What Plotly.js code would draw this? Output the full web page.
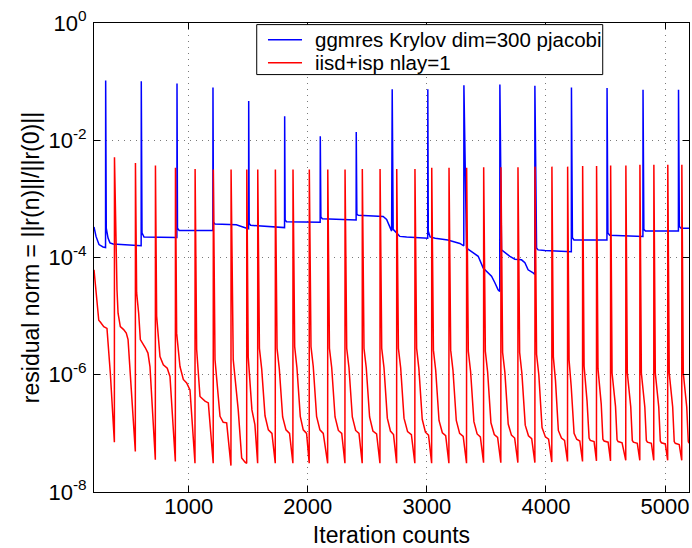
<!DOCTYPE html>
<html>
<head>
<meta charset="utf-8">
<script src="https://cdn.plot.ly/plotly-3.0.1.min.js"></script>
<style>
  html, body { margin: 0; padding: 0; background: #fff; }
  #chart { width: 692px; height: 548px; }
</style>
</head>
<body>
<div id="chart"></div>
<script>
// GMRES(300) with point-Jacobi preconditioner: iteration and log10 of relative residual
const gmresIter = [
  205, 222, 247, 281, 302,
  303, 308, 323, 339, 365, 601,
  602, 608, 625, 901,
  902, 906, 920, 1203,
  1204, 1208, 1220, 1400, 1487, 1503,
  1504, 1508, 1520, 1780, 1805,
  1806, 1810, 1822, 2104,
  2105, 2110, 2122, 2406,
  2407, 2412, 2424, 2565, 2633, 2662, 2676, 2690, 2704,
  2709, 2717, 2746, 2773, 2830, 3007,
  3008, 3012, 3027, 3070, 3176, 3277, 3310,
  3311, 3333, 3375, 3431, 3473, 3501, 3543, 3571, 3598, 3612,
  3613, 3627, 3655, 3697, 3739, 3795, 3823, 3850, 3892, 3906,
  3907, 3921, 3934, 3990, 4213,
  4214, 4222, 4235, 4512,
  4513, 4520, 4535, 4814,
  4815, 4822, 4835, 5112,
  5113, 5120, 5135, 5201
];
const gmresLog10 = [
  -3.48, -3.64, -3.78, -3.82, -3.83,
  -0.98, -3.50, -3.67, -3.75, -3.77, -3.80,
  -0.995, -3.58, -3.65, -3.66,
  -1.03, -3.50, -3.54, -3.54,
  -1.10, -3.40, -3.43, -3.44, -3.50, -3.51,
  -1.33, -3.42, -3.45, -3.48, -3.49,
  -1.59, -3.36, -3.39, -3.40,
  -1.93, -3.31, -3.34, -3.36,
  -1.86, -3.26, -3.28, -3.29, -3.30, -3.35, -3.41, -3.47, -3.55,
  -1.13, -3.52, -3.58, -3.64, -3.65, -3.67,
  -1.13, -3.55, -3.65, -3.67, -3.70, -3.76, -3.80,
  -1.06, -3.84, -3.90, -3.98, -4.18, -4.24, -4.32, -4.43, -4.55, -4.58,
  -1.05, -3.87, -3.92, -3.98, -4.03, -4.04, -4.09, -4.21, -4.26, -4.29,
  -1.07, -3.84, -3.87, -3.88, -3.90,
  -1.10, -3.66, -3.70, -3.70,
  -1.11, -3.58, -3.62, -3.64,
  -1.14, -3.52, -3.55, -3.55,
  -1.14, -3.47, -3.50, -3.50
];

// IISD + ISP, one layer: iteration and log10 of relative residual
const iisdIter = [
  205, 230, 245, 258, 287, 314, 342, 376,
  377, 398, 407, 426, 454, 476, 491, 518, 552,
  553, 563, 580, 594, 636, 658, 675, 720,
  721, 731, 759, 787, 820, 843, 888,
  889, 899, 927, 955, 983, 1011, 1053,
  1054, 1067, 1095, 1137, 1165, 1206,
  1207, 1221, 1263, 1290, 1319, 1355,
  1356, 1374, 1416, 1445, 1473, 1487,
  1488, 1500, 1531, 1556, 1579,
  1580, 1594, 1613, 1641, 1669, 1699, 1727,
  1728, 1742, 1761, 1789, 1817, 1847, 1875,
  1876, 1890, 1909, 1937, 1962, 1990, 2012,
  2013, 2027, 2046, 2074, 2102, 2130, 2167,
  2168, 2182, 2201, 2229, 2257, 2285, 2312,
  2313, 2327, 2346, 2374, 2402, 2430, 2457,
  2458, 2472, 2491, 2519, 2547, 2578, 2606,
  2607, 2621, 2640, 2668, 2694, 2720, 2746,
  2747, 2761, 2780, 2808, 2838, 2870, 2899,
  2900, 2914, 2933, 2961, 2988, 3014, 3040,
  3041, 3055, 3074, 3102, 3130, 3158, 3185,
  3186, 3200, 3219, 3247, 3275, 3305, 3333,
  3334, 3348, 3367, 3395, 3422, 3449, 3476,
  3477, 3491, 3510, 3538, 3566, 3594, 3621,
  3622, 3636, 3655, 3683, 3710, 3737, 3764,
  3765, 3779, 3798, 3826, 3853, 3880, 3907,
  3908, 3921, 3940, 3967, 3995, 4022, 4049,
  4050, 4062, 4080, 4104, 4130, 4156, 4181,
  4182, 4194, 4212, 4236, 4258, 4284, 4307,
  4308, 4320, 4345, 4362, 4372, 4404, 4424,
  4425, 4437, 4464, 4478, 4488, 4522, 4542,
  4543, 4555, 4584, 4597, 4606, 4639, 4670,
  4671, 4683, 4712, 4725, 4734, 4767, 4788,
  4789, 4801, 4830, 4843, 4852, 4885, 4905,
  4906, 4918, 4947, 4960, 4969, 5002, 5022,
  5023, 5035, 5064, 5077, 5086, 5119, 5140,
  5141, 5153, 5182, 5195, 5201
];
const iisdLog10 = [
  -4.21, -4.78, -5.07, -5.10, -5.18, -5.21, -5.97, -7.15,
  -2.29, -4.55, -4.95, -5.18, -5.23, -5.29, -5.40, -6.25, -7.31,
  -2.39, -4.60, -4.95, -5.40, -5.54, -5.63, -5.86, -7.45,
  -2.43, -5.00, -5.69, -5.83, -5.89, -6.03, -7.48,
  -2.47, -5.29, -5.86, -6.08, -6.14, -6.26, -7.51,
  -2.49, -5.57, -6.37, -6.45, -6.48, -7.51,
  -2.50, -5.74, -6.71, -6.81, -6.82, -7.55,
  -2.50, -5.74, -6.60, -7.42, -7.49, -7.51,
  -2.50, -5.70, -6.60, -6.85, -7.51,
  -2.50, -5.55, -5.90, -6.70, -6.94, -7.00, -7.51,
  -2.50, -5.55, -5.90, -6.72, -6.94, -7.00, -7.51,
  -2.50, -5.52, -5.88, -6.71, -6.94, -7.00, -7.51,
  -2.50, -5.52, -5.86, -6.71, -6.94, -7.00, -7.51,
  -2.50, -5.55, -5.88, -6.72, -6.95, -7.00, -7.51,
  -2.50, -5.55, -5.88, -6.72, -6.95, -7.00, -7.51,
  -2.49, -5.55, -5.88, -6.72, -6.96, -7.01, -7.51,
  -2.49, -5.55, -5.88, -6.74, -6.96, -7.02, -7.51,
  -2.49, -5.55, -5.88, -6.74, -6.97, -7.02, -7.51,
  -2.49, -5.55, -5.90, -6.76, -6.98, -7.03, -7.51,
  -2.47, -5.58, -5.92, -6.78, -6.99, -7.04, -7.51,
  -2.47, -5.58, -5.92, -6.78, -7.00, -7.05, -7.51,
  -2.47, -5.60, -5.94, -6.80, -7.01, -7.06, -7.50,
  -2.46, -5.60, -5.95, -6.82, -7.02, -7.07, -7.50,
  -2.46, -5.62, -5.96, -6.84, -7.03, -7.08, -7.50,
  -2.46, -5.62, -5.98, -6.86, -7.04, -7.09, -7.50,
  -2.45, -5.65, -6.00, -6.90, -7.06, -7.10, -7.49,
  -2.45, -5.70, -6.10, -6.95, -7.08, -7.12, -7.48,
  -2.45, -5.75, -6.20, -7.00, -7.10, -7.13, -7.48,
  -2.44, -5.85, -6.45, -7.08, -7.12, -7.14, -7.47,
  -2.44, -5.90, -6.50, -7.10, -7.13, -7.15, -7.47,
  -2.43, -5.97, -6.54, -7.11, -7.14, -7.16, -7.46,
  -2.43, -5.97, -6.55, -7.12, -7.15, -7.17, -7.46,
  -2.42, -5.97, -6.55, -7.12, -7.15, -7.17, -7.46,
  -2.42, -5.97, -6.55, -7.13, -7.16, -7.18, -7.46,
  -2.42, -5.97, -6.55, -7.14, -7.17, -7.19, -7.46,
  -2.42, -5.97, -6.55, -7.14, -7.17
];

const xTicks = [1000, 2000, 3000, 4000, 5000];
const xTickText = ['1000', '2000', '3000', '4000', '5000'];
const yTicks = [1e-8, 1e-6, 1e-4, 1e-2, 1];
const yTickText = ['10<sup>-8</sup>', '10<sup>-6</sup>', '10<sup>-4</sup>', '10<sup>-2</sup>', '10<sup>0</sup>'];

const seriesNames = ['ggmres Krylov dim=300 pjacobi', 'iisd+isp nlay=1'];
const seriesColors = ['#0000ff', '#ff0000'];

const FONT = 'Liberation Sans, Arial, Helvetica, sans-serif';

const traces = [
  {
    x: gmresIter,
    y: gmresLog10.map(v => Math.pow(10, v)),
    mode: 'lines',
    name: seriesNames[0],
    line: { color: seriesColors[0], width: 1.5 }
  },
  {
    x: iisdIter,
    y: iisdLog10.map(v => Math.pow(10, v)),
    mode: 'lines',
    name: seriesNames[1],
    line: { color: seriesColors[1], width: 1.5 }
  }
];

const axisCommon = {
  showline: true,
  linecolor: '#000',
  linewidth: 1,
  mirror: 'ticks',
  ticks: 'inside',
  ticklen: 6,
  tickwidth: 1,
  tickcolor: '#000',
  showgrid: true,
  gridcolor: '#7a7a7a',
  gridwidth: 1,
  griddash: '1px,5px',
  zeroline: false,
  tickfont: { family: FONT, size: 22, color: '#000' }
};

// Boxed key in the upper part of the axes (paper coordinates of the plot area)
const key = { x0: 0.2735, x1: 0.855, y0: 0.890, y1: 0.9966, lineX0: 0.2924, lineX1: 0.3496, textX: 0.3676, rows: [0.9644, 0.9153] };

const shapes = [
  { type: 'rect', xref: 'paper', yref: 'paper', x0: key.x0, x1: key.x1, y0: key.y0, y1: key.y1,
    line: { color: '#000', width: 1 }, fillcolor: '#fff', layer: 'above' }
];
const annotations = [];
seriesNames.forEach((name, i) => {
  shapes.push({ type: 'line', xref: 'paper', yref: 'paper', x0: key.lineX0, x1: key.lineX1,
    y0: key.rows[i], y1: key.rows[i], line: { color: seriesColors[i], width: 1.5 }, layer: 'above' });
  annotations.push({ xref: 'paper', yref: 'paper', x: key.textX, y: key.rows[i], xanchor: 'left', yanchor: 'middle',
    text: name, showarrow: false, font: { family: FONT, size: 20.5, color: '#000' } });
});

const layout = {
  width: 692,
  height: 548,
  margin: { l: 94, r: 3, t: 23, b: 56 },
  paper_bgcolor: '#fff',
  plot_bgcolor: '#fff',
  font: { family: FONT, color: '#000' },
  showlegend: false,
  shapes: shapes,
  annotations: annotations,
  xaxis: Object.assign({}, axisCommon, {
    range: [205, 5201],
    tickmode: 'array',
    tickvals: xTicks,
    ticktext: xTickText,
    ticklabelstandoff: -5,
    title: { text: 'Iteration counts', font: { family: FONT, size: 23, color: '#000' }, standoff: 8 }
  }),
  yaxis: Object.assign({}, axisCommon, {
    type: 'log',
    range: [-8, 0],
    tickmode: 'array',
    tickvals: yTicks,
    ticktext: yTickText,
    ticklabelstandoff: 2,
    title: { text: 'residual norm = ||r(n)||/||r(0)||', font: { family: FONT, size: 23, color: '#000' }, standoff: 2 }
  })
};

Plotly.newPlot('chart', traces, layout, { displayModeBar: false, staticPlot: true });
</script>
</body>
</html>
